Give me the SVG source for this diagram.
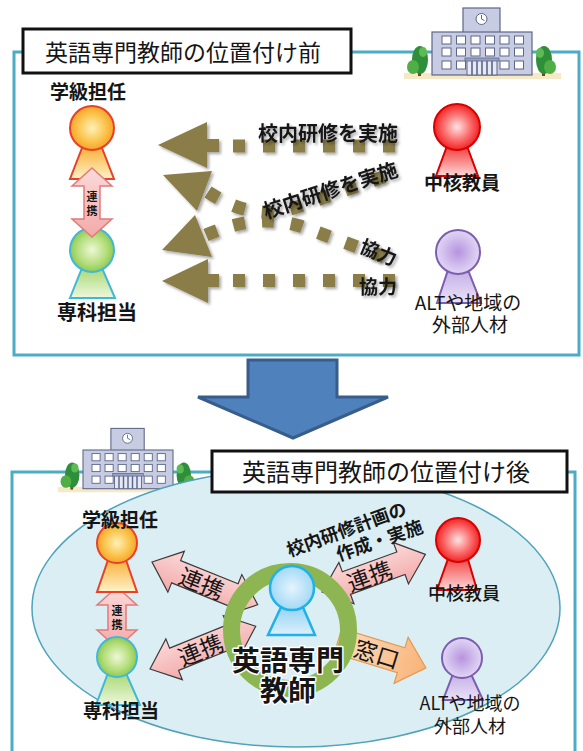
<svg xmlns="http://www.w3.org/2000/svg" xmlns:xlink="http://www.w3.org/1999/xlink" width="583" height="751" viewBox="0 0 583 751">
  <defs>
    <style>
      .jp { font-family: "Noto Sans CJK JP", "Noto Sans", sans-serif; fill: #151515; }
      .bold { font-weight: 700; }
      .title { font-size: 23px; }
      .frame { fill: #ffffff; stroke: #4BACC6; stroke-width: 3; }
      .titlebox { fill: #ffffff; stroke: #111111; stroke-width: 3; }
      .olive { fill: #8A7D46; }
      .dots { fill: none; stroke: #8A7D46; stroke-width: 13; stroke-dasharray: 12 17; }
      .pink { fill: url(#gPink); stroke: #E27A7A; stroke-width: 1.5; }
      .pinkb { fill: url(#gPink); stroke: #3a3a3a; stroke-width: 1.2; }
      .peach { fill: url(#gPeach); stroke: #E39A55; stroke-width: 1.2; }
      .halo { stroke: #ffffff; stroke-width: 3; paint-order: stroke; stroke-linejoin: round; }
      .win { fill: #ffffff; stroke: #5C6689; stroke-width: 1; }
      .bld { fill: #C7CCE2; stroke: #5C6689; stroke-width: 1.2; }
    </style>

    <!-- person fills -->
    <radialGradient id="hOrange" cx="0.5" cy="0.5" r="0.55">
      <stop offset="0" stop-color="#FFF1B8"/>
      <stop offset="0.6" stop-color="#FBC24A"/>
      <stop offset="1" stop-color="#F59A1E"/>
    </radialGradient>
    <linearGradient id="bOrange" x1="0" y1="0" x2="0" y2="1">
      <stop offset="0" stop-color="#F8B13C"/>
      <stop offset="1" stop-color="#FFF2C8"/>
    </linearGradient>
    <radialGradient id="hGreen" cx="0.5" cy="0.5" r="0.55">
      <stop offset="0" stop-color="#EEF8D6"/>
      <stop offset="0.6" stop-color="#B4DE7C"/>
      <stop offset="1" stop-color="#86C442"/>
    </radialGradient>
    <linearGradient id="bGreen" x1="0" y1="0" x2="0" y2="1">
      <stop offset="0" stop-color="#A9D872"/>
      <stop offset="1" stop-color="#EDF7DE"/>
    </linearGradient>
    <radialGradient id="hRed" cx="0.5" cy="0.5" r="0.55">
      <stop offset="0" stop-color="#FFE3E3"/>
      <stop offset="0.55" stop-color="#FB6A6A"/>
      <stop offset="1" stop-color="#EE1111"/>
    </radialGradient>
    <linearGradient id="bRed" x1="0" y1="0" x2="0" y2="1">
      <stop offset="0" stop-color="#F03A3A"/>
      <stop offset="1" stop-color="#FFD6D6"/>
    </linearGradient>
    <radialGradient id="hPurple" cx="0.5" cy="0.5" r="0.55">
      <stop offset="0" stop-color="#B793DE"/>
      <stop offset="0.6" stop-color="#D3C1EE"/>
      <stop offset="1" stop-color="#E6DCF6"/>
    </radialGradient>
    <linearGradient id="bPurple" x1="0" y1="0" x2="0" y2="1">
      <stop offset="0" stop-color="#C4AEE6"/>
      <stop offset="1" stop-color="#EAE2F8"/>
    </linearGradient>
    <radialGradient id="hBlue" cx="0.5" cy="0.5" r="0.55">
      <stop offset="0" stop-color="#E4F4FD"/>
      <stop offset="1" stop-color="#9CD6F4"/>
    </radialGradient>
    <linearGradient id="bBlue" x1="0" y1="0" x2="0" y2="1">
      <stop offset="0" stop-color="#8FD0F3"/>
      <stop offset="1" stop-color="#DDF1FC"/>
    </linearGradient>
    <linearGradient id="gPink" x1="0" y1="0" x2="0" y2="1">
      <stop offset="0" stop-color="#FBDADA"/>
      <stop offset="1" stop-color="#F3A9A9"/>
    </linearGradient>
    <linearGradient id="gPeach" x1="0" y1="0" x2="1" y2="0">
      <stop offset="0" stop-color="#FCDCC0"/>
      <stop offset="1" stop-color="#F9B478"/>
    </linearGradient>

    <filter id="soft" x="-20%" y="-20%" width="140%" height="140%">
      <feDropShadow dx="2" dy="2" stdDeviation="1.8" flood-color="#000" flood-opacity="0.35"/>
    </filter>

    <!-- school building, origin at top-left of the main block -->
    <g id="school">
      <rect x="-28" y="41" width="157" height="6" fill="#F6EAC6"/>
      <rect x="-14" y="36" width="3" height="8" fill="#6B4A2B"/>
      <ellipse cx="-12" cy="28" rx="8" ry="14" fill="#2F8E3A"/>
      <ellipse cx="-19" cy="35" rx="6" ry="7" fill="#4FAE45"/>
      <ellipse cx="-9" cy="20" rx="4" ry="5" fill="#5DBB55"/>
      <rect x="110" y="36" width="3" height="8" fill="#6B4A2B"/>
      <ellipse cx="112" cy="28" rx="8" ry="14" fill="#2F8E3A"/>
      <ellipse cx="118" cy="35" rx="6" ry="7" fill="#4FAE45"/>
      <ellipse cx="108" cy="21" rx="4" ry="5" fill="#5DBB55"/>
      <rect class="bld" x="31" y="-24" width="37" height="25"/>
      <circle cx="49.5" cy="-13" r="5.5" fill="#ffffff" stroke="#5C6689" stroke-width="1"/>
      <path d="M49.5 -13 V-17 M49.5 -13 L52.5 -11.5" stroke="#5C6689" stroke-width="1" fill="none"/>
      <rect class="bld" x="0" y="0" width="100" height="43"/>
      <g>
        <rect class="win" x="10" y="4" width="9" height="8"/>
        <rect class="win" x="24.5" y="4" width="9" height="8"/>
        <rect class="win" x="39" y="4" width="9" height="8"/>
        <rect class="win" x="53.5" y="4" width="9" height="8"/>
        <rect class="win" x="68" y="4" width="9" height="8"/>
        <rect class="win" x="82.5" y="4" width="9" height="8"/>
        <rect class="win" x="10" y="16" width="9" height="8"/>
        <rect class="win" x="24.5" y="16" width="9" height="8"/>
        <rect class="win" x="39" y="16" width="9" height="8"/>
        <rect class="win" x="53.5" y="16" width="9" height="8"/>
        <rect class="win" x="68" y="16" width="9" height="8"/>
        <rect class="win" x="82.5" y="16" width="9" height="8"/>
        <rect class="win" x="10" y="29" width="9" height="8"/>
        <rect class="win" x="24.5" y="29" width="9" height="8"/>
        <rect class="win" x="68" y="29" width="9" height="8"/>
        <rect class="win" x="82.5" y="29" width="9" height="8"/>
      </g>
      <rect x="35" y="28" width="30" height="15" fill="#E6E9F4" stroke="#5C6689" stroke-width="1"/>
      <rect x="33" y="26" width="34" height="3" fill="#9AA2C2" stroke="#5C6689" stroke-width="0.8"/>
      <path d="M40 29 V43 M45 29 V43 M50 29 V43 M55 29 V43 M60 29 V43" stroke="#5C6689" stroke-width="1.6"/>
    </g>
  </defs>

  <rect width="583" height="751" fill="#ffffff"/>

  <!-- ===== before ===== -->
  <g id="panel-before">
    <rect class="frame" x="14" y="52" width="565" height="303"/>
    <use href="#school" xlink:href="#school" transform="translate(432,32)"/>
    <g id="title-before">
      <rect class="titlebox" x="23" y="29" width="328" height="44"/>
      <text class="jp title" x="45" y="61">英語専門教師の位置付け前</text>
    </g>
  </g>

  <g id="connectors-before" filter="url(#soft)">
    <!-- 校内研修を実施 (straight) -->
    <polygon class="olive" points="158,145 207,122 207,139 219,139 219,152 207,152 207,168"/>
    <path class="dots" d="M233 146 H397" style="stroke-dasharray:12 18"/>
    <!-- 校内研修を実施 (curved) -->
    <polygon class="olive" points="163,175 212,171 197,211"/>
    <path class="dots" d="M208 192 C238 212 268 218 300 206 L400 171"/>
    <!-- 協力 (curved) -->
    <polygon class="olive" points="162,250 195,215 212,257"/>
    <path class="dots" d="M206 235 C236 222 268 216 300 226 L398 262"/>
    <!-- 協力 (straight) -->
    <polygon class="olive" points="162,281 208,259 208,274 219,274 219,287 208,287 208,303"/>
    <path class="dots" d="M233 280.5 H397" style="stroke-dasharray:12 18"/>
  </g>

  <g id="labels-before" filter="url(#soft)">
    <text class="jp bold" x="258" y="141" font-size="20">校内研修を実施</text>
    <text class="jp bold" font-size="20" text-anchor="middle" dominant-baseline="central" transform="translate(330,189) rotate(-18)">校内研修を実施</text>
    <text class="jp bold" font-size="19" text-anchor="middle" dominant-baseline="central" transform="translate(379,251) rotate(22)">協力</text>
    <text class="jp bold" x="359" y="294" font-size="19">協力</text>
  </g>

  <g id="homeroom-before">
    <polygon points="82,148 102,148 114,179 70,179" fill="url(#bOrange)" stroke="#E8402A" stroke-width="2"/>
    <circle cx="92" cy="128" r="22" fill="url(#hOrange)" stroke="#E8402A" stroke-width="2"/>
    <text class="jp bold" x="50" y="99" font-size="19">学級担任</text>
  </g>
  <g id="specialist-before">
    <polygon points="82,268 102,268 115,298 70,298" fill="url(#bGreen)" stroke="#3FB8DA" stroke-width="2"/>
    <circle cx="92" cy="250" r="22" fill="url(#hGreen)" stroke="#3FB8DA" stroke-width="2"/>
    <text class="jp bold" x="57" y="320" font-size="20">専科担当</text>
  </g>
  <g id="link-before">
    <polygon class="pink" points="92,168 112,186 100,186 100,219 112,219 92,237 72,219 84,219 84,186 72,186"/>
    <text class="jp bold" font-size="11" text-anchor="middle"><tspan x="92" y="201">連</tspan><tspan x="92" y="215">携</tspan></text>
  </g>
  <g id="core-before">
    <polygon points="447,146 467,146 478,176 436,176" fill="url(#bRed)" stroke="#D90000" stroke-width="2"/>
    <circle cx="457" cy="127" r="23" fill="url(#hRed)" stroke="#D90000" stroke-width="2"/>
    <text class="jp bold" x="462" y="190" font-size="19" text-anchor="middle">中核教員</text>
  </g>
  <g id="external-before">
    <polygon points="448,270 468,270 481,303 437,303" fill="url(#bPurple)" stroke="#7D5DB0" stroke-width="2"/>
    <circle cx="458" cy="252" r="22" fill="url(#hPurple)" stroke="#7D5DB0" stroke-width="2"/>
    <text class="jp" font-size="19" text-anchor="middle"><tspan x="468" y="310">ALTや地域の</tspan><tspan x="470" y="332">外部人材</tspan></text>
  </g>

  <!-- transition arrow -->
  <g id="transition">
    <polygon points="248,360 337,360 337,397 388,397 293,438 198,397 248,397" fill="#4F81BD" stroke="#385D8A" stroke-width="3" stroke-linejoin="miter"/>
  </g>

  <!-- ===== after ===== -->
  <g id="panel-after">
    <rect class="frame" x="12" y="472" width="563" height="300"/>
    <use href="#school" xlink:href="#school" transform="translate(83,450) scale(0.9)"/>
    <ellipse cx="296" cy="608" rx="264" ry="139" fill="#DAEEF3" stroke="#4FA3BA" stroke-width="1.5"/>
    <g id="title-after">
      <rect class="titlebox" x="212" y="451" width="355" height="41"/>
      <text class="jp" x="242" y="481" font-size="24">英語専門教師の位置付け後</text>
    </g>
  </g>

  <g id="connectors-after">
    <!-- to 学級担任 -->
    <g transform="translate(152,562) rotate(22)">
      <polygon class="pinkb" points="0,0 26,-22 26,-12 88,-12 88,-22 114,0 88,22 88,12 26,12 26,22"/>
      <text class="jp" x="54" y="0" font-size="23" text-anchor="middle" dominant-baseline="central">連携</text>
    </g>
    <!-- to 専科担当 -->
    <g transform="translate(150,669) rotate(-22)">
      <polygon class="pinkb" points="0,0 26,-22 26,-12 88,-12 88,-22 114,0 88,22 88,12 26,12 26,22"/>
      <text class="jp" x="54" y="0" font-size="23" text-anchor="middle" dominant-baseline="central">連携</text>
    </g>
    <!-- to 中核教員 -->
    <g transform="translate(322,592) rotate(-20)">
      <polygon class="pinkb" points="0,0 26,-22 26,-12 84,-12 84,-22 110,0 84,22 84,12 26,12 26,22"/>
      <text class="jp" x="50" y="0" font-size="23" text-anchor="middle" dominant-baseline="central">連携</text>
    </g>
    <!-- 窓口 to outside staff -->
    <g transform="translate(338,641) rotate(17)">
      <polygon class="peach" points="0,-13 66,-13 66,-24 92,0 66,24 66,13 0,13"/>
      <text class="jp" x="41" y="0" font-size="23" text-anchor="middle" dominant-baseline="central">窓口</text>
    </g>
    <!-- 学級担任 ⇔ 専科担当 -->
    <polygon class="pink" points="117,587 137,605 126,605 126,630 137,630 117,648 97,630 108,630 108,605 97,605"/>
    <text class="jp bold" font-size="11" text-anchor="middle"><tspan x="117" y="615">連</tspan><tspan x="117" y="629">携</tspan></text>
  </g>

  <g id="plan-label">
    <text class="jp bold" font-size="18" text-anchor="middle" dominant-baseline="central" transform="translate(346,528) rotate(-20)">校内研修計画の</text>
    <text class="jp bold" font-size="18" text-anchor="middle" dominant-baseline="central" transform="translate(379,539) rotate(-19)">作成・実施</text>
  </g>

  <g id="english-teacher">
    <circle cx="290" cy="630" r="58.5" fill="none" stroke="#8DB652" stroke-width="17"/>
    <polygon points="282,605 302,605 315,635 268,635" fill="url(#bBlue)" stroke="#1FB2EA" stroke-width="2.5"/>
    <circle cx="292" cy="588" r="22" fill="url(#hBlue)" stroke="#1FB2EA" stroke-width="2.5"/>
    <text class="jp bold halo" font-size="28" text-anchor="middle"><tspan x="288" y="671">英語専門</tspan><tspan x="288" y="701">教師</tspan></text>
  </g>

  <g id="homeroom-after">
    <polygon points="108,560 126,560 137,592 97,592" fill="url(#bOrange)" stroke="#E8402A" stroke-width="2"/>
    <circle cx="117" cy="543" r="20" fill="url(#hOrange)" stroke="#E8402A" stroke-width="2"/>
    <text class="jp bold" x="82" y="527" font-size="19">学級担任</text>
  </g>
  <g id="specialist-after">
    <polygon points="108,673 126,673 140,705 96,705" fill="url(#bGreen)" stroke="#3FB8DA" stroke-width="2"/>
    <circle cx="117" cy="657" r="20" fill="url(#hGreen)" stroke="#3FB8DA" stroke-width="2"/>
    <text class="jp bold" x="83" y="718" font-size="19">専科担当</text>
  </g>
  <g id="core-after">
    <polygon points="449,556 467,556 477,590 437,590" fill="url(#bRed)" stroke="#D90000" stroke-width="2"/>
    <circle cx="458" cy="540" r="22" fill="url(#hRed)" stroke="#D90000" stroke-width="2"/>
    <text class="jp" x="464" y="600" font-size="18" text-anchor="middle" font-weight="500">中核教員</text>
  </g>
  <g id="external-after">
    <polygon points="453,674 471,674 483,700 443,700" fill="url(#bPurple)" stroke="#7D5DB0" stroke-width="2"/>
    <circle cx="462" cy="658" r="20" fill="url(#hPurple)" stroke="#7D5DB0" stroke-width="2"/>
    <text class="jp" font-size="18" text-anchor="middle"><tspan x="470" y="710">ALTや地域の</tspan><tspan x="470" y="733">外部人材</tspan></text>
  </g>
</svg>
